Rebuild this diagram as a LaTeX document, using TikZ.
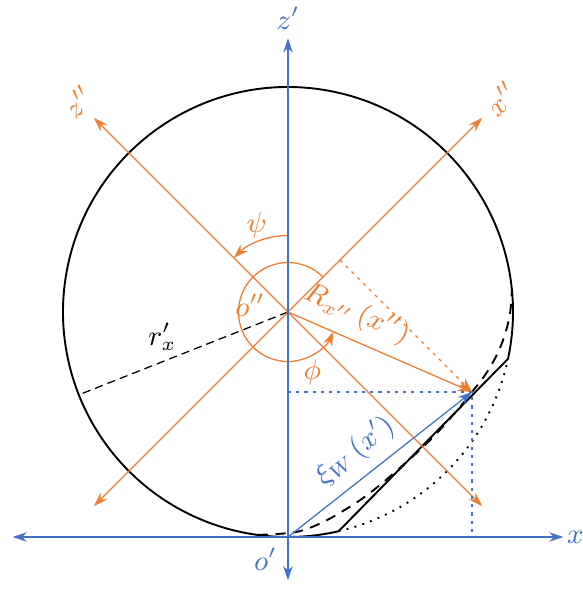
\documentclass[tikz,border=0pt]{standalone}
\usepackage{amsmath,amssymb}
\usepackage{tikz}
\usetikzlibrary{arrows.meta,calc}
\usepackage{xcolor}
\definecolor{axblue}{RGB}{68,114,196}
\definecolor{axorange}{RGB}{237,125,49}

\begin{document}
\begin{tikzpicture}[>={Stealth[length=4.5pt,width=3pt]},every node/.style={font=\small},
  proj/.style={dash pattern=on 1pt off 1.6pt},
  profile/.style={semithick,dash pattern=on 3.2pt off 2.4pt},
  radial/.style={dash pattern=on 2.6pt off 1.6pt}]
\useasboundingbox (-3.2,-0.589) rectangle (3.278,5.967);
\coordinate (o1) at (0,0);
\coordinate (o2) at (0,2.5);
\coordinate (P) at (2.044,1.611);
\coordinate (Px) at (2.044,0);
\coordinate (Pz) at (0,1.611);
\coordinate (Q) at (0.578,3.078);
\coordinate (xl) at (-3.06,0);
\coordinate (xr) at (3.06,0);
\coordinate (zb) at (0,-0.48);
\coordinate (zt) at (0,5.54);
\coordinate (A) at ($(o2)+(-77:2.5)$);
\coordinate (B) at ($(o2)+(-12:2.5)$);
\coordinate (rx) at ($(o2)+(201.6:2.5)$);
% wheel: cut circle, original arc and deformed profile
\draw[semithick] (B) arc[start angle=-12,end angle=283,radius=2.5] -- cycle;
\draw[dotted,semithick] (A) arc[start angle=-77,end angle=-12,radius=2.5];
\draw[profile] plot[smooth,tension=0.6] coordinates {(-0.335,0.023) (0.056,0.05) (0.30,0.125) (0.58,0.27) (0.95,0.52) (1.5,1.0) (1.83,1.35) (P) (2.21,1.83) (2.36,2.11) (2.46,2.44) (2.488,2.745)};
\draw[radial] (o2) -- (rx) node[pos=0.6,above]{$r'_x$};
% rotated frame
\begin{scope}[shift={(o2)},rotate=45,transform shape,axorange]
\coordinate (x2l) at (-3.05,0);
\coordinate (x2r) at (3.05,0);
\coordinate (z2b) at (0,-3.05);
\coordinate (z2t) at (0,3.05);
\draw[<->] (x2l) -- (x2r) node[right]{$x''$};
\draw[<->] (z2b) -- (z2t) node[above]{$z''$};
\end{scope}
\draw[axorange,->] ([shift={(90:0.85)}]o2) arc[start angle=90,end angle=135,radius=0.85];
\node[axorange] (psi) at ([shift={(110:1.02)}]o2) {$\psi$};
\draw[axorange,->] ([shift={(45:0.55)}]o2) arc[start angle=45,end angle=336.5,radius=0.55];
\node[axorange] (phi) at ([shift={(0.27,-0.67)}]o2) {$\phi$};
\node[axorange] (lo2) at ([shift={(-0.42,0.08)}]o2) {$o''$};
\draw[axorange,proj,->] (Q) -- (P);
\draw[axorange,->] (o2) -- (P) node[pos=0.32,above,sloped]{$R_{x''}\left(x''\right)$};
% fixed frame
\draw[axblue,<->] (xl) -- (xr) node[anchor=west,inner sep=1pt]{$x$};
\draw[axblue,<->] (zb) -- (zt);
\node[axblue,anchor=base] (lz1) at (0,5.64) {$z'$};
\node[axblue,below left] (lo1) at (o1) {$o'$};
\draw[axblue,proj] (Pz) -- (P) -- (Px);
\draw[axblue,->] (o1) -- (P) node[pos=0.45,above,sloped]{$\xi_{W}\left(x'\right)$};
\end{tikzpicture}
\end{document}
